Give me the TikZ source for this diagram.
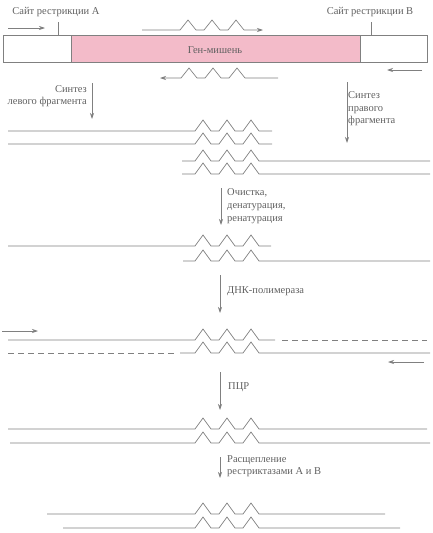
\documentclass[tikz,border=0pt]{standalone}
\usepackage{fontspec}
\setmainfont{Liberation Serif}
\usetikzlibrary{arrows.meta}
\definecolor{ln}{HTML}{808080}
\definecolor{tx}{HTML}{606060}
\definecolor{pinkfill}{HTML}{F3BBC9}
\newcommand{\zzpath}{-- ++(8,-11) -- ++(8,11) -- ++(8,0) -- ++(8,-11) -- ++(8,11) -- ++(8,0) -- ++(8,-11) -- ++(8,11)}
\tikzset{
  strand/.style={draw=ln, line width=0.7pt},
  dstrand/.style={draw=ln, line width=0.7pt, dash pattern=on 6pt off 4pt},
  flow/.style={draw=ln, line width=0.7pt, -{Stealth[length=6pt,width=4pt]}},
  primer/.style={draw=ln, line width=0.7pt, -{Stealth[length=6pt,width=4pt]}},
  lbl/.style={text=tx, font=\fontsize{10.5}{13}\selectfont, inner sep=0pt},
}
\begin{document}
\begin{tikzpicture}[x=1pt,y=-1pt]
\useasboundingbox (0,0) rectangle (432,533);
% top box
\path[fill=pinkfill] (71,35) rectangle (360,62);
\node[draw=ln, line width=0.7pt, minimum width=424pt, minimum height=27pt, inner sep=0pt, anchor=north west] (box) at (3,35) {};
\draw[ln, line width=0.7pt] (71,35) -- (71,62) (360,35) -- (360,62);
\node[lbl] (gene) at (215,50) {Ген-мишень};
% restriction sites
\node[lbl, anchor=base] (siteA) at (56,14) {Сайт рестрикции А};
\node[lbl, anchor=base] (siteB) at (370,14) {Сайт рестрикции В};
\coordinate (tA1) at (58,22); \coordinate (tA2) at (58,35);
\coordinate (tB1) at (371,22); \coordinate (tB2) at (371,35);
\draw[strand] (tA1) -- (tA2);
\draw[strand] (tB1) -- (tB2);
% primers on top
\coordinate (pA1) at (8,28); \coordinate (pA2) at (45,28);
\draw[primer] (pA1) -- (pA2);
\coordinate (pB1) at (422,70); \coordinate (pB2) at (387,70);
\draw[primer] (pB1) -- (pB2);
\coordinate (pM1) at (142,30); \coordinate (pM2) at (263,30);
\draw[primer] (pM1) -- (180,30) -- ++(8,-10) -- ++(8,10) -- ++(8,0) -- ++(8,-10) -- ++(8,10) -- ++(8,0) -- ++(8,-10) -- ++(8,10) -- (pM2);
\coordinate (pN1) at (278,78); \coordinate (pN2) at (160,78);
\draw[primer] (pN1) -- (245,78) -- ++(-8,-10) -- ++(-8,10) -- ++(-8,0) -- ++(-8,-10) -- ++(-8,10) -- ++(-8,0) -- ++(-8,-10) -- ++(-8,10) -- (pN2);
% synthesis arrows
\node[lbl, anchor=base east] (synL1) at (87,92) {Синтез};
\node[lbl, anchor=base east] (synL2) at (87,104) {левого фрагмента};
\coordinate (aL1) at (92,83); \coordinate (aL2) at (92,119);
\draw[flow] (aL1) -- (aL2);
\node[lbl, anchor=base west] (synR1) at (348,98) {Синтез};
\node[lbl, anchor=base west] (synR2) at (348,111) {правого};
\node[lbl, anchor=base west] (synR3) at (348,123) {фрагмента};
\coordinate (aR1) at (347,82); \coordinate (aR2) at (347,143);
\draw[flow] (aR1) -- (aR2);
% fragments
\draw[strand] (8,131) -- (195,131) \zzpath -- (272,131);
\draw[strand] (8,144) -- (195,144) \zzpath -- (272,144);
\draw[strand] (182,161) -- (195,161) \zzpath -- (430,161);
\draw[strand] (182,174) -- (195,174) \zzpath -- (430,174);
% step 1
\coordinate (s1a) at (221,188); \coordinate (s1b) at (221,225);
\draw[flow] (s1a) -- (s1b);
\node[lbl, anchor=base west] (clean1) at (227,195) {Очистка,};
\node[lbl, anchor=base west] (clean2) at (227,208) {денатурация,};
\node[lbl, anchor=base west] (clean3) at (227,221) {ренатурация};
% hybrid
\draw[strand] (8,246) -- (195,246) \zzpath -- (271,246);
\draw[strand] (183,261) -- (195,261) \zzpath -- (430,261);
% step 2
\coordinate (s2a) at (220,275); \coordinate (s2b) at (220,313);
\draw[flow] (s2a) -- (s2b);
\node[lbl, anchor=west] (pol) at (227,291) {ДНК-полимераза};
% extended
\coordinate (q1) at (2,331); \coordinate (q2) at (38,331);
\draw[primer] (q1) -- (q2);
\draw[strand] (8,340) -- (195,340) \zzpath -- (275,340);
\draw[dstrand] (282,340) -- (427,340);
\draw[dstrand] (8,353) -- (175,353);
\draw[strand] (180,353) -- (195,353) \zzpath -- (430,353);
\coordinate (q3) at (424,362); \coordinate (q4) at (388,362);
\draw[primer] (q3) -- (q4);
% step 3
\coordinate (s3a) at (220,372); \coordinate (s3b) at (220,410);
\draw[flow] (s3a) -- (s3b);
\node[lbl, anchor=west] (pcr) at (228,387) {ПЦР};
% amplified
\draw[strand] (8,429) -- (195,429) \zzpath -- (427,429);
\draw[strand] (10,443) -- (195,443) \zzpath -- (430,443);
% step 4
\coordinate (s4a) at (220,457); \coordinate (s4b) at (220,478);
\draw[flow] (s4a) -- (s4b);
\node[lbl, anchor=base west] (cut1) at (227,462) {Расщепление};
\node[lbl, anchor=base west] (cut2) at (227,474) {рестриктазами А и В};
% final
\draw[strand] (47,514) -- (195,514) \zzpath -- (385,514);
\draw[strand] (63,528) -- (195,528) \zzpath -- (400,528);
\end{tikzpicture}
\end{document}
